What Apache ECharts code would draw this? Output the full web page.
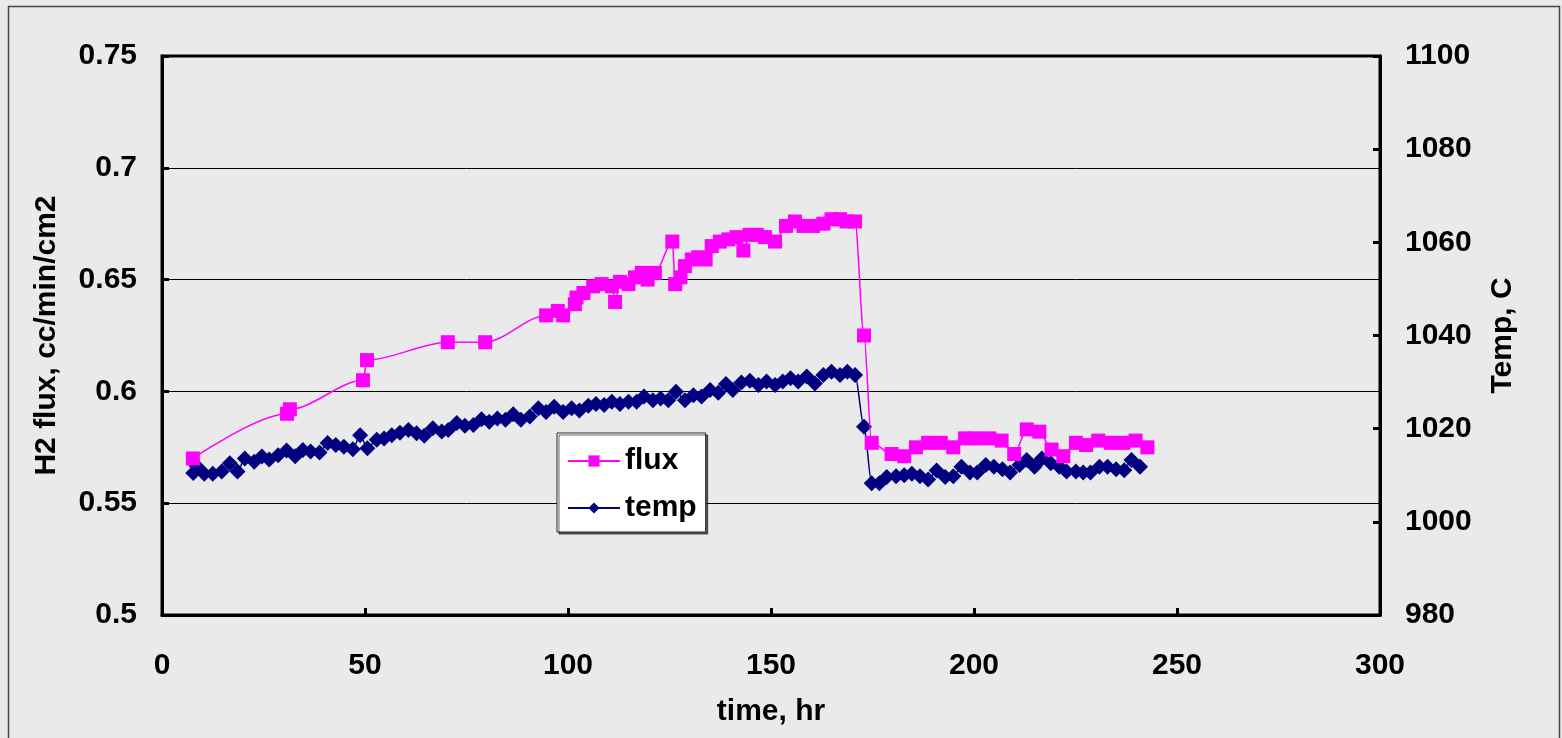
<!DOCTYPE html>
<html>
<head>
<meta charset="utf-8">
<script src="https://cdn.jsdelivr.net/npm/echarts@6/dist/echarts.min.js"></script>
<style>
html,body{margin:0;padding:0;background:#EAEAEA;}
#chart{width:1562px;height:738px;}
</style>
</head>
<body>
<div id="chart"></div>
<script>
const fluxHours = [7.6,30.8,31.5,49.5,50.5,70.4,79.6,94.6,97.5,98.8,101.7,102.1,103.8,106.2,108.3,110.8,111.6,112.8,114.9,116.5,118.2,119.6,121.4,125.7,126.4,127.7,128.8,130.5,132.1,133.9,135.4,137.4,139.5,141.5,143.2,144.7,146.5,148.5,151.0,153.7,155.9,158.0,160.4,162.9,164.9,167.0,168.6,170.7,172.9,174.8,179.7,182.8,185.7,188.7,191.8,194.9,197.8,200.6,203.8,206.8,209.9,213.0,216.1,219.1,222.0,225.1,227.6,230.6,233.7,236.8,239.8,242.7];
const fluxValues = [0.570,0.590,0.592,0.605,0.614,0.622,0.622,0.634,0.636,0.634,0.639,0.642,0.644,0.647,0.648,0.647,0.640,0.649,0.648,0.651,0.653,0.650,0.653,0.667,0.648,0.651,0.656,0.659,0.660,0.659,0.665,0.667,0.668,0.669,0.663,0.670,0.670,0.669,0.667,0.674,0.676,0.674,0.674,0.675,0.677,0.677,0.676,0.676,0.625,0.577,0.572,0.571,0.575,0.577,0.577,0.575,0.579,0.579,0.579,0.578,0.572,0.583,0.582,0.574,0.571,0.577,0.576,0.578,0.577,0.577,0.578,0.575];
const tempHours = [7.7,8.5,10.4,12.5,14.7,16.7,18.6,20.4,22.7,24.6,26.4,28.6,30.7,32.8,34.7,36.6,38.8,40.8,42.8,44.8,47.0,48.8,50.6,52.9,54.7,56.6,58.6,60.7,62.7,64.6,66.7,68.9,70.5,72.6,74.6,76.7,78.7,80.6,82.6,84.6,86.5,88.4,90.6,92.7,94.6,96.6,98.8,100.9,102.8,105.0,106.9,108.9,110.8,112.8,114.9,116.9,118.7,120.9,122.8,124.7,126.6,128.8,130.9,132.9,135.0,137.0,138.9,140.6,142.7,144.8,146.9,148.9,151.0,152.9,154.8,156.7,158.8,160.8,162.9,164.9,167.0,168.8,170.7,172.9,174.8,176.7,178.5,180.8,182.8,184.7,186.7,188.7,190.8,192.9,194.9,196.9,199.0,200.8,202.9,204.9,207.0,208.9,211.2,213.0,214.9,216.7,218.9,221.0,222.8,225.1,226.9,228.7,230.9,232.9,235.0,237.0,238.8,240.9];
const tempValues = [1010.5,1012.0,1010.3,1010.3,1010.8,1012.6,1010.8,1013.6,1012.9,1014.0,1013.4,1014.3,1015.3,1014.1,1015.4,1015.1,1014.9,1016.9,1016.5,1016.1,1015.6,1018.6,1015.8,1017.6,1017.9,1018.6,1019.1,1019.7,1019.0,1018.5,1020.1,1019.4,1019.7,1021.2,1020.6,1020.8,1022.0,1021.5,1022.2,1021.9,1023.1,1021.9,1022.6,1024.4,1023.6,1024.7,1023.6,1024.4,1023.9,1024.9,1025.3,1025.1,1025.8,1025.3,1025.8,1025.8,1026.9,1026.1,1026.5,1026.1,1027.9,1026.1,1027.2,1026.9,1028.3,1027.7,1029.6,1028.3,1029.9,1030.3,1029.4,1030.1,1029.4,1030.1,1030.8,1030.1,1031.2,1029.7,1031.5,1032.2,1031.5,1032.2,1031.5,1020.4,1008.3,1008.3,1009.6,1009.8,1010.0,1010.3,1009.8,1009.1,1011.0,1009.6,1009.8,1011.8,1010.6,1010.6,1012.2,1011.8,1011.3,1010.6,1012.2,1013.3,1011.8,1013.6,1012.6,1011.8,1010.8,1010.8,1010.6,1010.6,1011.8,1011.8,1011.3,1011.1,1013.3,1011.8];
const xAxisTitle = 'time, hr';
const leftAxisTitle = 'H2 flux, cc/min/cm2';
const rightAxisTitle = 'Temp, C';
const seriesNames = ['flux', 'temp'];

const fluxData = fluxHours.map((h, i) => [h, fluxValues[i]]);
const tempData = tempHours.map((h, i) => [h, tempValues[i]]);

const FONT = '"Liberation Sans", Arial, sans-serif';
const chart = echarts.init(document.getElementById('chart'), null, {renderer: 'canvas'});
const labelStyle = {color: '#000', fontSize: 30, fontWeight: 'bold', fontFamily: FONT};

chart.setOption({
  backgroundColor: '#EAEAEA',
  animation: false,
  graphic: [{
    type: 'rect', silent: true, z: -1,
    shape: {x: 8.5, y: 6.5, width: 1551, height: 745},
    style: {fill: 'none', stroke: '#444', lineWidth: 1.5}
  }],
  grid: {
    left: 162, top: 56, right: 182, bottom: 123,
    show: true, borderColor: '#000', borderWidth: 3, backgroundColor: '#EAEAEA'
  },
  legend: {
    left: 557, top: 433, orient: 'vertical',
    data: seriesNames,
    backgroundColor: '#fff', borderColor: '#222', borderWidth: 1,
    shadowColor: 'rgba(0,0,0,0.6)', shadowOffsetX: 2, shadowOffsetY: 2, shadowBlur: 0,
    padding: [11, 9, 7, 10],
    itemWidth: 52, itemHeight: 14, itemGap: 13, itemTextGap: 10,
    textStyle: {color: '#000', fontSize: 30, fontWeight: 'bold', fontFamily: FONT, lineHeight: 34}
  },
  xAxis: {
    type: 'value', min: 0, max: 300, interval: 50,
    name: xAxisTitle, nameLocation: 'middle', nameGap: 82,
    nameTextStyle: labelStyle,
    axisLine: {show: true, lineStyle: {color: '#000', width: 3}},
    axisTick: {show: true, inside: true, length: 7, lineStyle: {color: '#000', width: 3}},
    axisLabel: Object.assign({margin: 36}, labelStyle),
    splitLine: {show: false}
  },
  yAxis: [{
    type: 'value', min: 0.5, max: 0.75, interval: 0.05, position: 'left',
    name: leftAxisTitle, nameLocation: 'middle', nameRotate: 90, nameGap: 100,
    nameTextStyle: labelStyle,
    axisLine: {show: true, lineStyle: {color: '#000', width: 3}},
    axisTick: {show: true, inside: true, length: 7, lineStyle: {color: '#000', width: 3}},
    axisLabel: Object.assign({margin: 25}, labelStyle),
    splitLine: {show: true, lineStyle: {color: '#000', width: 1}}
  }, {
    type: 'value', min: 980, max: 1100, interval: 20, position: 'right',
    name: rightAxisTitle, nameLocation: 'middle', nameRotate: 90, nameGap: 108,
    nameTextStyle: labelStyle,
    axisLine: {show: true, lineStyle: {color: '#000', width: 3}},
    axisTick: {show: true, inside: true, length: 7, lineStyle: {color: '#000', width: 3}},
    axisLabel: Object.assign({margin: 25, formatter: v => String(Math.round(v))}, labelStyle),
    splitLine: {show: false}
  }],
  series: [{
    name: seriesNames[0], type: 'line', yAxisIndex: 0,
    data: fluxData,
    smooth: 0.3, smoothMonotone: 'x',
    symbol: 'rect', symbolSize: 14,
    lineStyle: {color: '#FF00FF', width: 1.5},
    itemStyle: {color: '#FF00FF', borderColor: '#FF00FF', borderWidth: 0},
    z: 3
  }, {
    name: seriesNames[1], type: 'line', yAxisIndex: 1,
    data: tempData,
    smooth: 0.3, smoothMonotone: 'x',
    symbol: 'diamond', symbolSize: 16,
    lineStyle: {color: '#000080', width: 1.5},
    itemStyle: {color: '#000080', borderColor: '#000080', borderWidth: 0},
    z: 2
  }]
});
</script>
</body>
</html>
